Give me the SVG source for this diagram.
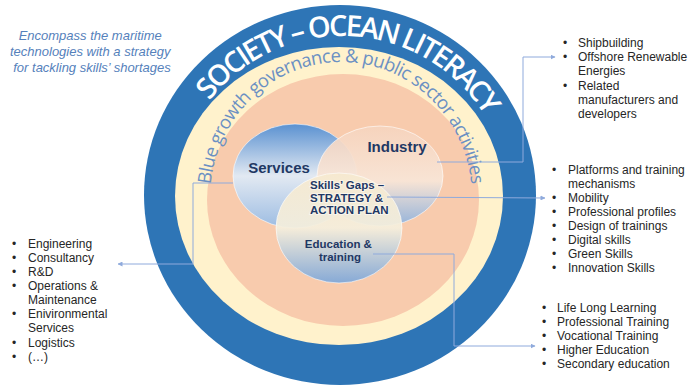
<svg xmlns="http://www.w3.org/2000/svg" width="690" height="386" viewBox="0 0 690 386">
  <style>
    .list { font-family: "Liberation Sans", Arial, sans-serif; font-size: 12px; fill: #262626; }
    .venn { font-family: "Liberation Sans", Arial, sans-serif; font-weight: bold; fill: #1f3864; }
    .conn { fill: none; stroke: #8faadc; stroke-width: 1; }
    .ring { font-family: "Open Sans", "Liberation Sans", sans-serif; }
  </style>
  <defs>
    <marker id="arr" viewBox="0 0 10 10" refX="9" refY="5" markerWidth="5" markerHeight="5" orient="auto">
      <path d="M0,0 L10,5 L0,10 z" fill="#8faadc"/>
    </marker>
    <linearGradient id="gServ" x1="0" y1="0" x2="0" y2="1">
      <stop offset="0" stop-color="#5a91d1"/>
      <stop offset="0.5" stop-color="#e2e9f2"/>
      <stop offset="1" stop-color="#9cbce2"/>
    </linearGradient>
    <linearGradient id="gInd" x1="0" y1="0" x2="0" y2="1">
      <stop offset="0" stop-color="#f6d4be"/>
      <stop offset="0.55" stop-color="#f8e6d8"/>
      <stop offset="1" stop-color="#8cb1de"/>
    </linearGradient>
    <linearGradient id="gEdu" x1="0" y1="0" x2="0" y2="1">
      <stop offset="0" stop-color="#f6e9cf"/>
      <stop offset="0.5" stop-color="#f5efdd"/>
      <stop offset="1" stop-color="#7ea7d9"/>
    </linearGradient>
    <path id="arcOuter" d="M174,204 A168,168 0 0 1 510,204"/>
    <path id="arcInner" d="M210,198 A131,136 0 0 1 472,198"/>
  </defs>

  <rect width="690" height="386" fill="#ffffff"/>

  <g id="rings">
    <ellipse cx="340" cy="195" rx="196" ry="190" fill="#2e75b6"/>
    <ellipse cx="339" cy="196" rx="164" ry="149" fill="#fff2cc"/>
    <ellipse cx="343" cy="200" rx="136" ry="126" fill="#f8cbad"/>
  </g>

  <g id="ring-labels">
    <text class="ring" font-size="29" font-weight="600" fill="#ffffff" textLength="324" lengthAdjust="spacing"><textPath href="#arcOuter" startOffset="273" text-anchor="middle">SOCIETY – OCEAN LITERACY</textPath></text>
    <text class="ring" font-size="18.5" fill="#6b90c3" textLength="392" lengthAdjust="spacing"><textPath href="#arcInner" startOffset="50%" text-anchor="middle">Blue growth governance &amp; public sector activities</textPath></text>
  </g>

  <g id="note">
    <text font-family="Liberation Sans, Arial, sans-serif" font-style="italic" font-size="13" fill="#5581bb" text-anchor="middle">
      <tspan x="92" y="40">Encompass the maritime</tspan>
      <tspan x="92" y="56">technologies with a strategy</tspan>
      <tspan x="92" y="72">for tackling skills’ shortages</tspan>
    </text>
  </g>

  <g id="services">
    <ellipse cx="295" cy="176" rx="62" ry="52" fill="url(#gServ)" stroke="#ffffff" stroke-opacity="0.6" stroke-width="1"/>
    <text class="venn" x="279" y="173" font-size="15" text-anchor="middle">Services</text>
  </g>
  <g id="industry">
    <ellipse cx="380" cy="176" rx="63" ry="50" fill="url(#gInd)" fill-opacity="0.92" stroke="#ffffff" stroke-opacity="0.6" stroke-width="1"/>
    <text class="venn" x="397" y="152" font-size="15" text-anchor="middle">Industry</text>
  </g>
  <g id="education">
    <ellipse cx="339" cy="228" rx="63" ry="55" fill="url(#gEdu)" fill-opacity="0.93" stroke="#ffffff" stroke-opacity="0.6" stroke-width="1"/>
    <text class="venn" font-size="11.5" text-anchor="middle">
      <tspan x="340" y="248">Education &amp;</tspan>
      <tspan x="340" y="261">training</tspan>
    </text>
  </g>
  <g id="skills-gaps">
    <text class="venn" font-size="11.5" stroke="#ffffff" stroke-width="2" stroke-opacity="0.5" paint-order="stroke">
      <tspan x="310" y="189">Skills’ Gaps –</tspan>
      <tspan x="310" y="202">STRATEGY &amp;</tspan>
      <tspan x="310" y="214">ACTION PLAN</tspan>
    </text>
  </g>

  <g id="connectors">
    <polyline class="conn" points="437,162 523,162 523,57 555,57" marker-end="url(#arr)"/>
    <polyline class="conn" points="387,197 545,198" marker-end="url(#arr)"/>
    <polyline class="conn" points="233,183 193,183 193,264 118,264" marker-end="url(#arr)"/>
    <polyline class="conn" points="373,254 454,254 454,346 535,346" marker-end="url(#arr)"/>
  </g>

  <g id="list-industry" class="list">
    <text x="563" y="47">•</text><text x="578" y="47">Shipbuilding</text>
    <text x="563" y="61">•</text><text x="578" y="61">Offshore Renewable</text>
    <text x="578" y="75">Energies</text>
    <text x="563" y="90">•</text><text x="578" y="90">Related</text>
    <text x="578" y="104">manufacturers and</text>
    <text x="578" y="118">developers</text>
  </g>

  <g id="list-skills" class="list">
    <text x="552" y="174">•</text><text x="568" y="174">Platforms and training</text>
    <text x="568" y="188">mechanisms</text>
    <text x="552" y="202">•</text><text x="568" y="202">Mobility</text>
    <text x="552" y="216">•</text><text x="568" y="216">Professional profiles</text>
    <text x="552" y="230">•</text><text x="568" y="230">Design of trainings</text>
    <text x="552" y="244">•</text><text x="568" y="244">Digital skills</text>
    <text x="552" y="258">•</text><text x="568" y="258">Green Skills</text>
    <text x="552" y="272">•</text><text x="568" y="272">Innovation Skills</text>
  </g>

  <g id="list-services" class="list">
    <text x="12" y="248">•</text><text x="28" y="248">Engineering</text>
    <text x="12" y="262">•</text><text x="28" y="262">Consultancy</text>
    <text x="12" y="276">•</text><text x="28" y="276">R&amp;D</text>
    <text x="12" y="290">•</text><text x="28" y="290">Operations &amp;</text>
    <text x="28" y="304">Maintenance</text>
    <text x="12" y="318">•</text><text x="28" y="318">Enivironmental</text>
    <text x="28" y="332">Services</text>
    <text x="12" y="347">•</text><text x="28" y="347">Logistics</text>
    <text x="12" y="361">•</text><text x="28" y="361">(…)</text>
  </g>

  <g id="list-education" class="list">
    <text x="542" y="312">•</text><text x="557" y="312">Life Long Learning</text>
    <text x="542" y="326">•</text><text x="557" y="326">Professional Training</text>
    <text x="542" y="340">•</text><text x="557" y="340">Vocational Training</text>
    <text x="542" y="354">•</text><text x="557" y="354">Higher Education</text>
    <text x="542" y="368">•</text><text x="557" y="368">Secondary education</text>
  </g>
</svg>
